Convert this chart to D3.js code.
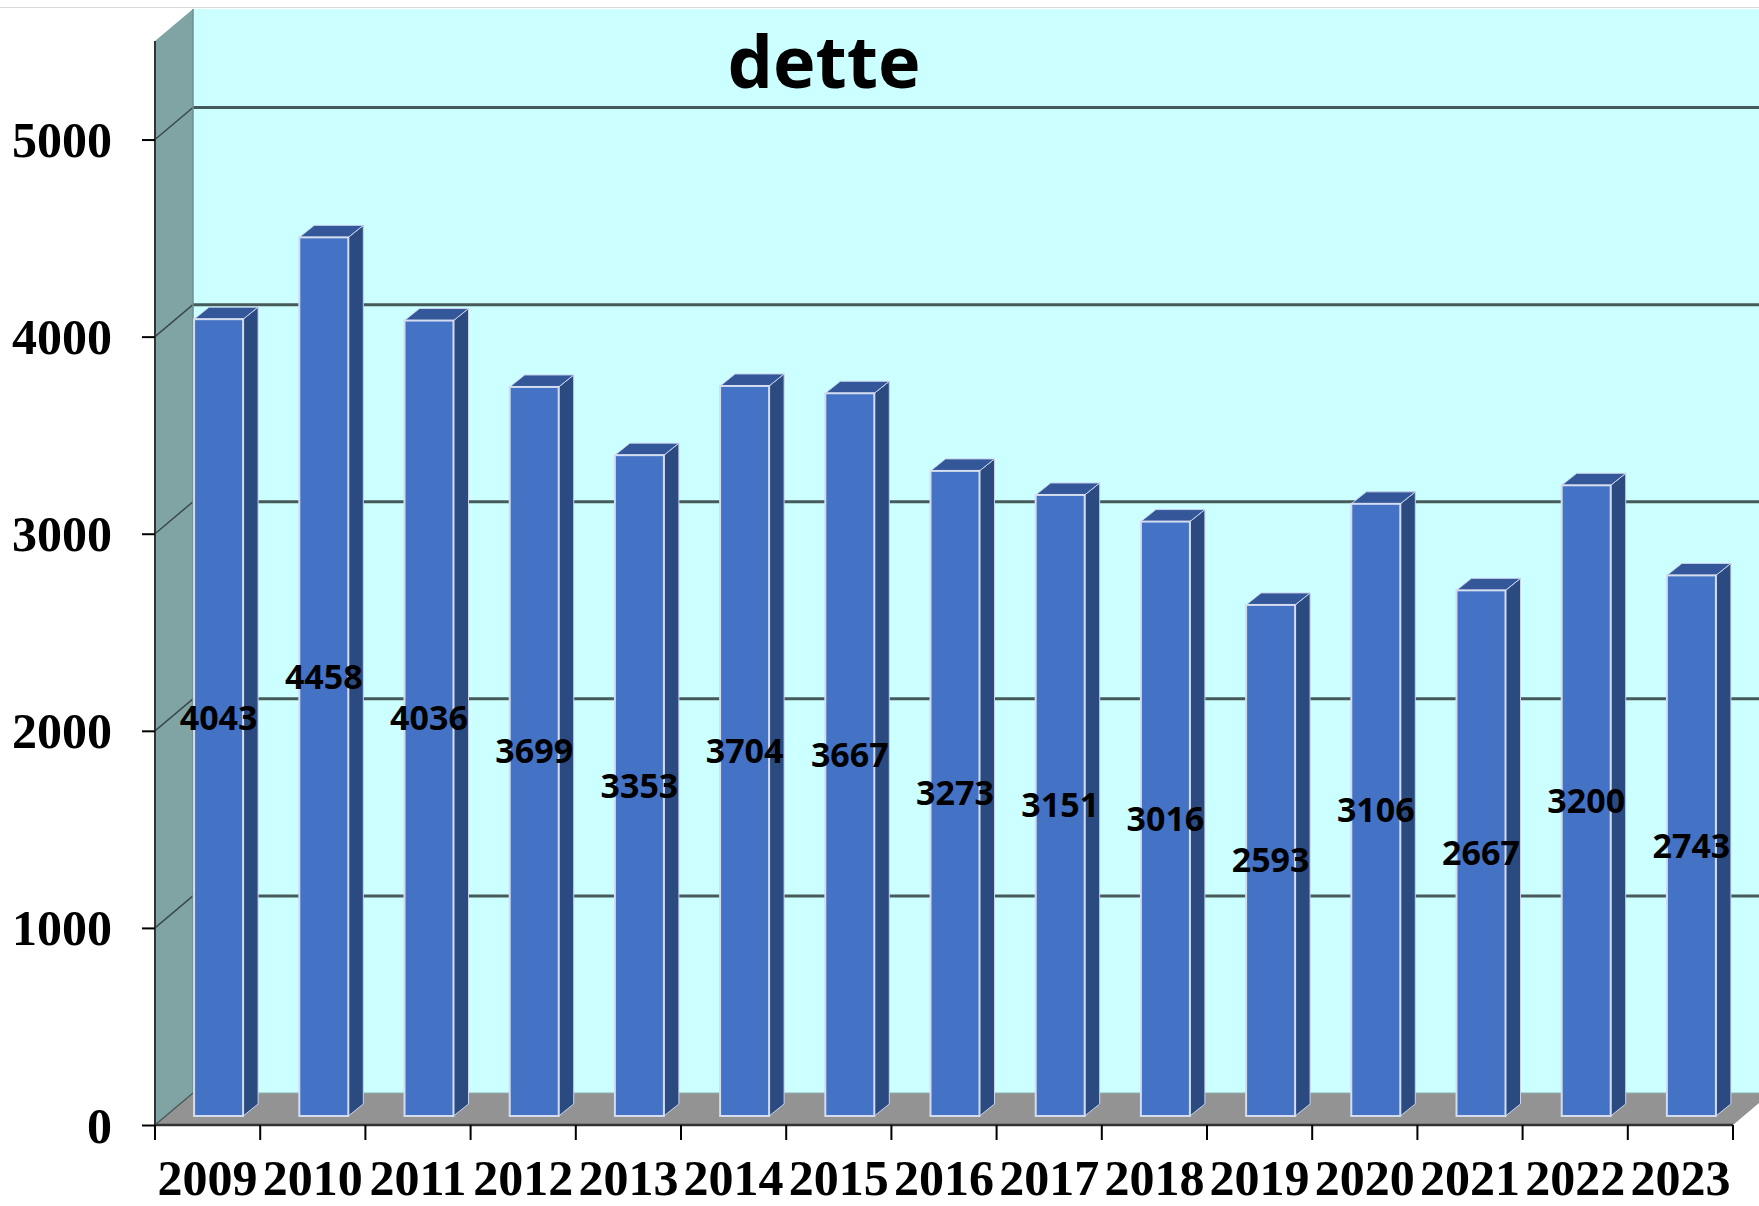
<!DOCTYPE html>
<html>
<head>
<meta charset="utf-8">
<script src="https://cdn.jsdelivr.net/npm/d3@7"></script>
<style>
  body { margin: 0; background: #fff; }
  .yl text, .xl text { font-family: "Liberation Serif", serif; font-weight: bold; fill: #000; }
</style>
</head>
<body>
<script>
const years = ['2009', '2010', '2011', '2012', '2013', '2014', '2015', '2016', '2017', '2018', '2019', '2020', '2021', '2022', '2023']
const values = [4043, 4458, 4036, 3699, 3353, 3704, 3667, 3273, 3151, 3016, 2593, 3106, 2667, 3200, 2743]
const yTicks = [0, 1000, 2000, 3000, 4000, 5000]
const title = 'dette'

const W = 1759, H = 1206
const depth = { dx: 38, dy: -32 } // wall / floor depth
const bar = { w: 49, dx: 15, dy: -12, off: 11 } // bar front sits a bit into the floor

const svg = d3.select('body').append('svg')
  .attr('width', W)
  .attr('height', H)

const y = d3.scaleLinear()
  .domain([0, 5500])
  .range([1125, 41])

const x = d3.scaleBand()
  .domain(years)
  .range([155, 1733])
  .padding(0)

const x0 = x.range()[0], x1 = x.range()[1]
const yTop = y(5500), yZero = y(0)

// top border line
svg.append('line')
  .attr('x1', 0).attr('x2', W)
  .attr('y1', 7.5).attr('y2', 7.5)
  .attr('stroke', '#d8d8d8')

// back wall
svg.append('rect')
  .attr('x', x0 + depth.dx)
  .attr('y', yTop + depth.dy)
  .attr('width', W - x0 - depth.dx)
  .attr('height', yZero - yTop)
  .attr('fill', '#ccffff')

// side wall
svg.append('path')
  .attr('d', `M${x0},${yTop} L${x0 + depth.dx},${yTop + depth.dy} L${x0 + depth.dx},${yZero + depth.dy} L${x0},${yZero} Z`)
  .attr('fill', '#80a4a4')

// floor
svg.append('path')
  .attr('d', `M${x0},${yZero} L${x1},${yZero} L${x1 + depth.dx},${yZero + depth.dy} L${x0 + depth.dx},${yZero + depth.dy} Z`)
  .attr('fill', '#939393')

// gridlines on back wall and side wall
const grid = svg.append('g')
grid.selectAll('.gl')
  .data(yTicks.filter(d => d > 0))
  .join('line')
  .attr('x1', x0 + depth.dx).attr('x2', W)
  .attr('y1', d => y(d) + depth.dy).attr('y2', d => y(d) + depth.dy)
  .attr('stroke', '#465a5a')
  .attr('stroke-width', 3)
grid.selectAll('.gd')
  .data(yTicks.filter(d => d > 0))
  .join('line')
  .attr('x1', x0).attr('x2', x0 + depth.dx)
  .attr('y1', d => y(d)).attr('y2', d => y(d) + depth.dy)
  .attr('stroke', '#3a4a4a')
  .attr('stroke-width', 1.5)

// wall/floor edges
svg.append('line')
  .attr('x1', x0 + depth.dx).attr('x2', x0 + depth.dx)
  .attr('y1', yTop + depth.dy).attr('y2', yZero + depth.dy)
  .attr('stroke', '#6f8f8f').attr('stroke-width', 1.5)
svg.append('line')
  .attr('x1', x0).attr('x2', x0 + depth.dx)
  .attr('y1', yZero).attr('y2', yZero + depth.dy)
  .attr('stroke', '#4a5a5a').attr('stroke-width', 1.5)
svg.append('line')
  .attr('x1', x0 + depth.dx).attr('x2', W)
  .attr('y1', yZero + depth.dy).attr('y2', yZero + depth.dy)
  .attr('stroke', '#8fb0b0').attr('stroke-width', 1)

// bars
const bars = svg.append('g')
  .selectAll('g')
  .data(years.map((d, i) => ({ year: d, value: values[i] })))
  .join('g')

const fx = d => x(d.year) + x.bandwidth() / 2 + bar.off - bar.w / 2
const fb = yZero - 9
const fy = d => fb - (yZero - y(d.value))

bars.append('path')
  .attr('d', d => `M${fx(d) + bar.w},${fy(d)} L${fx(d) + bar.w + bar.dx},${fy(d) + bar.dy} L${fx(d) + bar.w + bar.dx},${fb + bar.dy} L${fx(d) + bar.w},${fb} Z`)
  .attr('fill', '#2b4a80')
  .attr('stroke', '#c9d3ea')
  .attr('stroke-width', 1)

bars.append('path')
  .attr('d', d => `M${fx(d)},${fy(d)} L${fx(d) + bar.dx},${fy(d) + bar.dy} L${fx(d) + bar.w + bar.dx},${fy(d) + bar.dy} L${fx(d) + bar.w},${fy(d)} Z`)
  .attr('fill', '#34579a')
  .attr('stroke', '#c9d3ea')
  .attr('stroke-width', 1)

bars.append('rect')
  .attr('x', fx)
  .attr('y', fy)
  .attr('width', bar.w)
  .attr('height', d => fb - fy(d))
  .attr('fill', '#4472c4')
  .attr('stroke', '#d4dcf0')
  .attr('stroke-width', 2)

bars.append('text')
  .attr('x', d => fx(d) + bar.w / 2)
  .attr('y', d => (fy(d) + fb) / 2 + 12)
  .attr('text-anchor', 'middle')
  .attr('font-family', '"Open Sans", sans-serif')
  .attr('font-weight', 700)
  .attr('font-size', 34)
  .text(d => d.value)

// y axis
svg.append('g')
  .attr('class', 'yl')
  .attr('transform', `translate(${x0},0)`)
  .call(d3.axisLeft(y).tickValues(yTicks).tickSize(13).tickPadding(30).tickFormat(d3.format('d')))
  .call(g => g.select('.domain').attr('d', `M0,${yTop}V${yZero}`).attr('stroke', '#333').attr('stroke-width', 2))
  .call(g => g.selectAll('.tick line').attr('stroke', '#000').attr('stroke-width', 2))
  .call(g => g.selectAll('text').attr('font-size', 50).attr('dy', '0.34em'))

// x axis
svg.append('g')
  .attr('class', 'xl')
  .attr('transform', `translate(0,${yZero})`)
  .call(d3.axisBottom(x).tickSize(0).tickPadding(0))
  .call(g => g.select('.domain').attr('d', `M${x0},0H${x1}`).attr('stroke', '#333').attr('stroke-width', 2.5))
  .call(g => g.selectAll('text').attr('font-size', 50).attr('dy', 0).attr('y', 70))

svg.append('g')
  .selectAll('line')
  .data(years.map(d => x(d)).concat([x1]))
  .join('line')
  .attr('x1', d => d).attr('x2', d => d)
  .attr('y1', yZero).attr('y2', yZero + 15)
  .attr('stroke', '#000')
  .attr('stroke-width', 2)

// title
svg.append('text')
  .attr('x', 824)
  .attr('y', 88)
  .attr('text-anchor', 'middle')
  .attr('font-family', '"Open Sans", sans-serif')
  .attr('font-weight', 700)
  .attr('font-size', 72)
  .text(title)
</script>
</body>
</html>
